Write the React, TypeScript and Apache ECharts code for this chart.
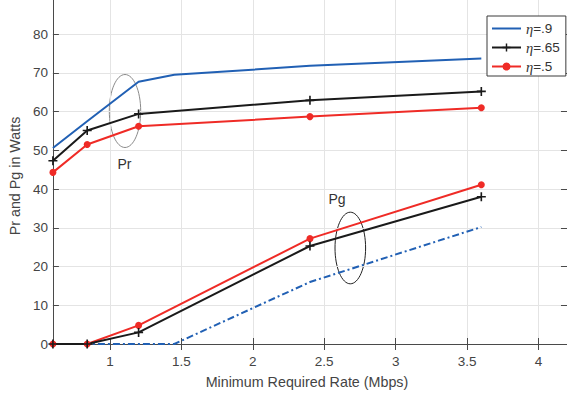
import React, { useEffect, useRef } from "react";
import * as echarts from "echarts";

// Rate values (Mbps)
const xRates = [0.6, 0.84, 1.2, 2.4, 3.6];
const xRatesBlue = [0.6, 0.84, 1.2, 1.45, 2.4, 3.6];

// Pr (Watts)
const prEta90 = [50.6, 57.5, 67.7, 69.5, 71.8, 73.7];
const prEta65 = [47.3, 55.1, 59.4, 62.9, 65.2];
const prEta50 = [44.3, 51.5, 56.2, 58.7, 61.0];

// Pg (Watts)
const pgEta90 = [0, 0, 0, 0, 16.0, 30.2];
const pgEta65 = [0, 0, 3.0, 25.3, 38.0];
const pgEta50 = [0, 0, 4.8, 27.2, 41.1];

const seriesNames = ["η=.9", "η=.65", "η=.5"];
const xTicks = [1, 1.5, 2, 2.5, 3, 3.5, 4];
const yTicks = [0, 10, 20, 30, 40, 50, 60, 70, 80];

const BLUE = "#2160b4";
const BLACK = "#1a1a1a";
const RED = "#ef2b26";
const PLUS = "path://M4.1,0H5.9V4.1H10V5.9H5.9V10H4.1V5.9H0V4.1H4.1Z";
const FONT = "'Liberation Sans', Arial, Helvetica, sans-serif";

const zip = (xs: number[], ys: number[]) => xs.map((x, i) => [x, ys[i]]);

export default function App() {
  const ref = useRef<HTMLDivElement>(null);
  useEffect(() => {
    if (!ref.current) return;
    const chart = echarts.init(ref.current, null, { renderer: "svg" });
    const axisLineColor = "#4a4a4a";
    const labelColor = "#444444";
    const gridColor = "#e4e4e4";
    const xMin = 0.6;
    const xMax = 4.2;
    const yMin = 0;
    const yMax = 88.8;
    chart.setOption({
      animation: false,
      backgroundColor: "#ffffff",
      grid: { left: 49, right: -3, top: -1, bottom: 54, containLabel: false },
      legend: {
        orient: "vertical",
        left: 487,
        top: 16,
        data: [
          { name: seriesNames[0], itemStyle: { opacity: 0 } },
          { name: seriesNames[1] },
          { name: seriesNames[2] },
        ],
        itemWidth: 29,
        itemHeight: 10,
        itemGap: 4,
        padding: [5, 6, 2, 4],
        borderColor: "#3a3a3a",
        borderWidth: 1,
        backgroundColor: "#ffffff",
        selectedMode: false,
        formatter: (name: string) => `{e|η}{v|${name.slice(1)}}`,
        textStyle: {
          rich: {
            e: { fontFamily: "'Liberation Serif', 'Times New Roman', serif", fontStyle: "italic", fontSize: 14.5, color: "#333", lineHeight: 15 },
            v: { fontFamily: FONT, fontSize: 13.5, color: "#333", lineHeight: 15 },
          },
        },
      },
      xAxis: [
        {
          type: "value",
          min: xMin,
          max: xMax,
          position: "bottom",
          name: "Minimum Required Rate (Mbps)",
          nameLocation: "middle",
          nameGap: 31,
          nameTextStyle: { fontFamily: FONT, fontSize: 14.3, color: labelColor, padding: [0, 6, 0, 0] },
          axisLine: { show: true, lineStyle: { color: axisLineColor, width: 1 } },
          axisTick: { show: true, inside: true, length: 6, customValues: xTicks, lineStyle: { color: axisLineColor } },
          axisLabel: { customValues: xTicks, fontFamily: FONT, fontSize: 13.5, color: labelColor, margin: 10 },
          splitLine: { show: true, lineStyle: { color: gridColor, width: 1 } },
        },
        {
          type: "value",
          min: xMin,
          max: xMax,
          position: "top",
          axisLine: { show: true, lineStyle: { color: axisLineColor, width: 1 } },
          axisTick: { show: true, inside: true, length: 6, customValues: xTicks, lineStyle: { color: axisLineColor } },
          axisLabel: { show: false },
          splitLine: { show: false },
        },
      ],
      yAxis: [
        {
          type: "value",
          min: yMin,
          max: yMax,
          position: "left",
          name: "Pr and Pg in Watts",
          nameLocation: "middle",
          nameGap: 23,
          nameTextStyle: { fontFamily: FONT, fontSize: 14.3, color: labelColor, padding: [0, 8, 0, 0] },
          axisLine: { show: true, lineStyle: { color: axisLineColor, width: 1 } },
          axisTick: { show: true, inside: true, length: 6, customValues: yTicks, lineStyle: { color: axisLineColor } },
          axisLabel: { customValues: yTicks, fontFamily: FONT, fontSize: 13.5, color: labelColor, margin: 5 },
          splitLine: { show: true, lineStyle: { color: gridColor, width: 1 } },
        },
        {
          type: "value",
          min: yMin,
          max: yMax,
          position: "right",
          axisLine: { show: true, lineStyle: { color: axisLineColor, width: 1 } },
          axisTick: { show: true, inside: true, length: 6, customValues: yTicks, lineStyle: { color: axisLineColor } },
          axisLabel: { show: false },
          splitLine: { show: false },
        },
      ],
      series: [
        {
          name: seriesNames[0],
          type: "line",
          data: zip(xRatesBlue, prEta90),
          symbol: "none",
          lineStyle: { color: BLUE, width: 2 },
          itemStyle: { color: BLUE },
          silent: true,
        },
        {
          name: seriesNames[1],
          type: "line",
          data: zip(xRates, prEta65),
          symbol: PLUS,
          symbolSize: 9,
          lineStyle: { color: BLACK, width: 2 },
          itemStyle: { color: BLACK },
          silent: true,
        },
        {
          name: seriesNames[2],
          type: "line",
          data: zip(xRates, prEta50),
          symbol: "circle",
          symbolSize: 7,
          lineStyle: { color: RED, width: 2 },
          itemStyle: { color: RED },
          silent: true,
        },
        {
          name: seriesNames[0],
          type: "line",
          data: zip(xRatesBlue, pgEta90),
          symbol: "none",
          lineStyle: { color: BLUE, width: 2, type: [7, 3, 2, 3] },
          itemStyle: { color: BLUE },
          silent: true,
        },
        {
          name: seriesNames[2],
          type: "line",
          data: zip(xRates, pgEta50),
          symbol: "circle",
          symbolSize: 7,
          lineStyle: { color: RED, width: 2 },
          itemStyle: { color: RED },
          silent: true,
        },
        {
          name: seriesNames[1],
          type: "line",
          data: zip(xRates, pgEta65),
          symbol: PLUS,
          symbolSize: 9,
          lineStyle: { color: BLACK, width: 2 },
          itemStyle: { color: BLACK },
          silent: true,
        },
      ],
      graphic: [
        {
          type: "ellipse",
          shape: { cx: 125, cy: 111, rx: 15.7, ry: 36.5 },
          style: { fill: "none", stroke: "#8a8a8a", lineWidth: 1 },
          silent: true,
        },
        {
          type: "text",
          x: 124.5,
          y: 163.5,
          style: { text: "Pr", fontFamily: FONT, fontSize: 14, fill: "#333", align: "center", verticalAlign: "middle", textAlign: "center", textVerticalAlign: "middle" },
          silent: true,
        },
        {
          type: "ellipse",
          shape: { cx: 350.3, cy: 248, rx: 15.3, ry: 35.8 },
          style: { fill: "none", stroke: "#222", lineWidth: 1 },
          silent: true,
        },
        {
          type: "text",
          x: 337,
          y: 199,
          style: { text: "Pg", fontFamily: FONT, fontSize: 14, fill: "#333", align: "center", verticalAlign: "middle", textAlign: "center", textVerticalAlign: "middle" },
          silent: true,
        },
      ],
    });
    return () => chart.dispose();
  }, []);
  return (
    <div
      ref={ref}
      style={{ position: "fixed", left: 0, top: 0, width: 567, height: 398, background: "#fff" }}
    />
  );
}
